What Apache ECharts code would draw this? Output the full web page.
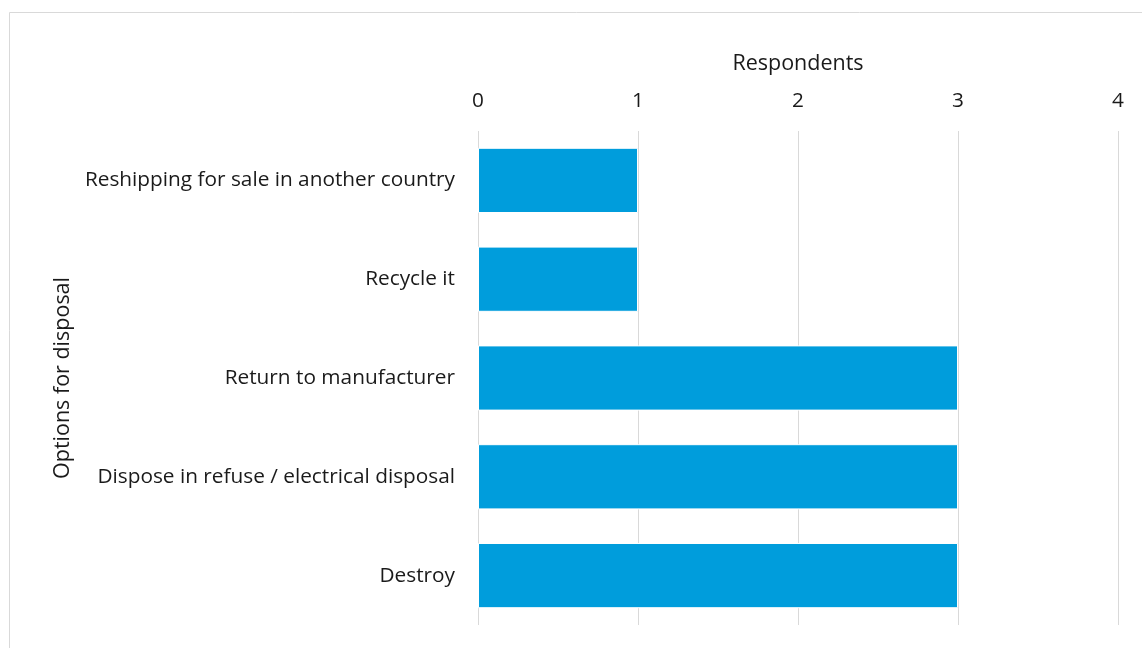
<!DOCTYPE html>
<html><head><meta charset="utf-8">
<script src="https://cdn.jsdelivr.net/npm/echarts@6/dist/echarts.min.js"></script>
<style>html,body{margin:0;padding:0;background:#fff}#c{width:1142px;height:648px}</style>
</head><body><div id="c"></div>
<script>
const categories = ["Destroy", "Dispose in refuse / electrical disposal", "Return to manufacturer", "Recycle it", "Reshipping for sale in another country"];
const values = [3, 3, 3, 1, 1];
const xTicks = [0, 1, 2, 3, 4];
const FONT = "Open Sans";
const chart = echarts.init(document.getElementById('c'), null, {renderer: 'canvas'});
chart.setOption({
  backgroundColor: '#fff',
  animation: false,
  graphic: [{type: 'rect', shape: {x: 9.5, y: 12.5, width: 1200, height: 700}, style: {fill: 'none', stroke: '#d9d9d9', lineWidth: 1}, silent: true}],
  grid: {left: 478, right: 24, top: 131, bottom: 23, containLabel: false},
  xAxis: {
    type: 'value', position: 'top', min: xTicks[0], max: xTicks[xTicks.length - 1], interval: 1,
    name: 'Respondents', nameLocation: 'middle', nameGap: 56,
    nameTextStyle: {fontFamily: FONT, fontSize: 21.5, color: '#1a1a1a'},
    axisLine: {show: false}, axisTick: {show: false},
    axisLabel: {fontFamily: FONT, fontSize: 20.8, color: '#1a1a1a', margin: 19},
    splitLine: {show: true, lineStyle: {color: '#d9d9d9', width: 1}}
  },
  yAxis: {
    type: 'category', data: categories,
    name: 'Options for disposal', nameLocation: 'middle', nameGap: 404, nameRotate: 90,
    nameTextStyle: {fontFamily: FONT, fontSize: 21.5, color: '#1a1a1a'},
    axisLine: {show: false}, axisTick: {show: false},
    axisLabel: {fontFamily: FONT, fontSize: 20.8, color: '#1a1a1a', margin: 23},
    splitLine: {show: false}
  },
  series: [{
    type: 'bar', data: values, barCategoryGap: '34%',
    itemStyle: {color: '#009ddc', borderColor: '#ffffff', borderWidth: 1}
  }]
});
</script></body></html>
